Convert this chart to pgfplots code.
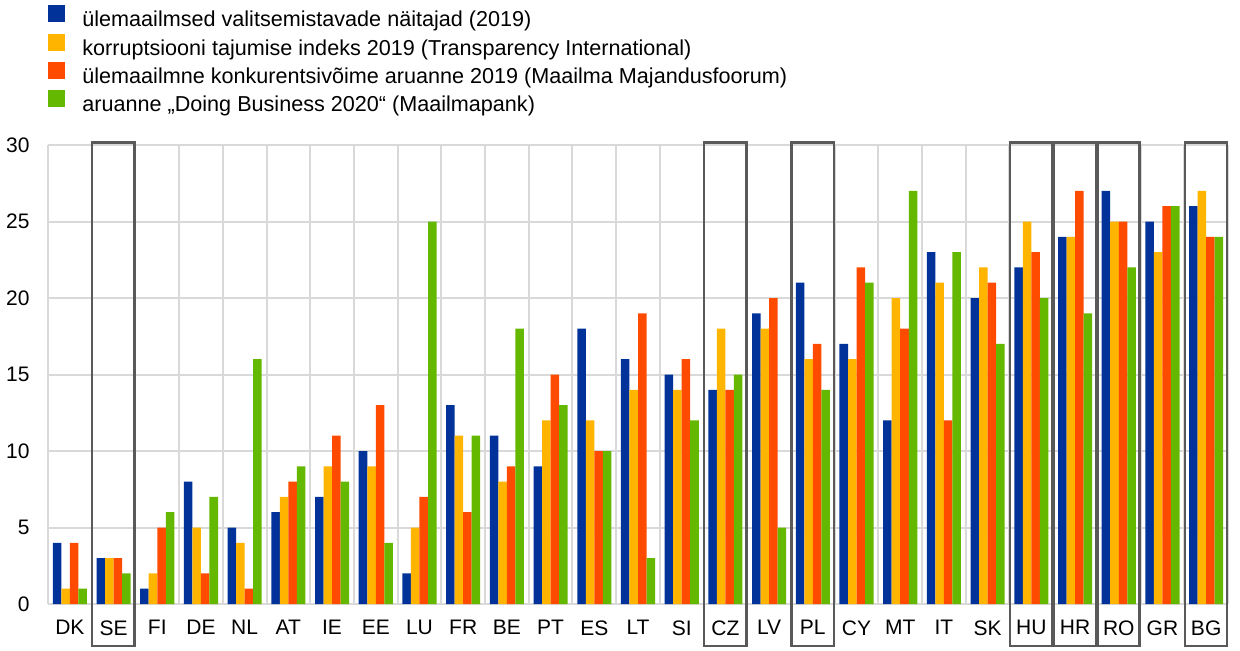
\documentclass[border=0pt]{standalone}
\usepackage{pgfplots}
\pgfplotsset{compat=1.18}
\usepackage{pgfplotstable}
\usepackage{fontspec}
\setmainfont{Liberation Sans}
\definecolor{ecbblue}{HTML}{003299}
\definecolor{ecbyellow}{HTML}{FFB400}
\definecolor{ecborange}{HTML}{FF4B00}
\definecolor{ecbgreen}{HTML}{65B800}
\definecolor{gridgray}{HTML}{D9D9D9}
\definecolor{boxgray}{HTML}{595959}

% ranks: governance, corruption, competitiveness, doing business
\pgfplotstableread{
x  gov cpi gci db
0  4   1   4   1
1  3   3   3   2
2  1   2   5   6
3  8   5   2   7
4  5   4   1   16
5  6   7   8   9
6  7   9   11  8
7  10  9   13  4
8  2   5   7   25
9  13  11  6   11
10 11  8   9   18
11 9   12  15  13
12 18  12  10  10
13 16  14  19  3
14 15  14  16  12
15 14  18  14  15
16 19  18  20  5
17 21  16  17  14
18 17  16  22  21
19 12  20  18  27
20 23  21  12  23
21 20  22  21  17
22 22  25  23  20
23 24  24  27  19
24 27  25  25  22
25 25  23  26  26
26 26  27  24  24
}\ranks

\newcommand{\markbox}[1]{%
  \draw[boxgray, line width=1.25pt] (axis cs:#1-0.49,-2.75) rectangle (axis cs:#1+0.48,30.15);}

\begin{document}
\begin{tikzpicture}
\useasboundingbox (0,0) rectangle (620pt,325pt);
\begin{axis}[
  at={(24pt,23pt)}, anchor=south west,
  scale only axis, width=590pt, height=229.5pt,
  xmin=-0.5, xmax=26.5, ymin=0, ymax=30,
  clip=false,
  axis line style={draw=none},
  major tick length=0pt, minor tick length=0pt,
  xtick={0,...,26},
  xticklabels={DK,SE,FI,DE,NL,AT,IE,EE,LU,FR,BE,PT,ES,LT,SI,CZ,LV,PL,CY,MT,IT,SK,HU,HR,RO,GR,BG},
  minor xtick={-0.5,0.5,...,26.5},
  xminorgrids,
  ytick={0,5,...,30},
  yticklabels={0,5,10,15,20,25,30},
  ymajorgrids,
  grid style={gridgray, line width=1pt},
  minor grid style={gridgray, line width=1pt},
  ticklabel style={font=\fontsize{10.5}{12}\selectfont, inner sep=0pt},
  xticklabel style={anchor=north, yshift=-8pt},
  yticklabel style={anchor=east, xshift=-9pt},
  ybar, bar width=0.195,
  every axis plot/.append style={draw=none},
  legend cell align=left,
  legend image code/.code={\path[#1, draw=none] (0pt,-0.5pt) rectangle (8.5pt,8pt);},
  legend style={draw=none, fill=none, at={(0,1.305)}, anchor=north west,
    inner sep=0pt, row sep=1.4pt, column sep=8.5pt,
    nodes={inner sep=0pt, text height=7.5pt, text depth=2pt},
    font=\fontsize{10.8}{12}\selectfont},
]
\addplot[fill=ecbblue, bar shift=-0.2925] table[x=x, y=gov] {\ranks};
\addlegendentry{ülemaailmsed valitsemistavade näitajad (2019)}
\addplot[fill=ecbyellow, bar shift=-0.0975] table[x=x, y=cpi] {\ranks};
\addlegendentry{korruptsiooni tajumise indeks 2019 (Transparency International)}
\addplot[fill=ecborange, bar shift=0.0975] table[x=x, y=gci] {\ranks};
\addlegendentry{ülemaailmne konkurentsivõime aruanne 2019 (Maailma Majandusfoorum)}
\addplot[fill=ecbgreen, bar shift=0.2925] table[x=x, y=db] {\ranks};
\addlegendentry{aruanne „Doing Business 2020“ (Maailmapank)}

\markbox{1}
\markbox{15}
\markbox{17}
\markbox{22}
\markbox{23}
\markbox{24}
\markbox{26}
\end{axis}
\end{tikzpicture}
\end{document}
